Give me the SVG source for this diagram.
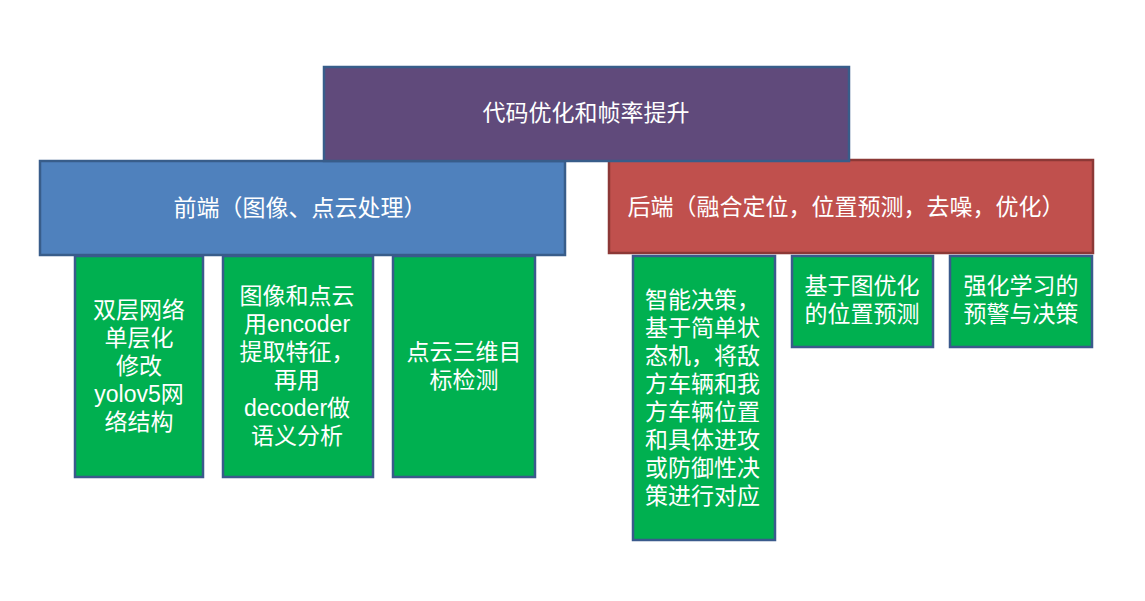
<svg xmlns="http://www.w3.org/2000/svg" width="1145" height="601" viewBox="0 0 1145 601">
<style>
text{font-family:"Liberation Sans","Noto Sans CJK SC",sans-serif;fill:#fff;font-size:23px;text-anchor:middle;dominant-baseline:central}
.g{fill:#00B050;stroke:#3A5A8C;stroke-width:2.5}
.l{text-anchor:start}
</style>
<rect width="1145" height="601" fill="#fff"/>
<g id="connectors"/>
<g id="front">
<rect x="40" y="161" width="525" height="94" fill="#4F81BD" stroke="#385D8A" stroke-width="2.5"/>
<text x="300" y="208">前端（图像、点云处理）</text>
</g>
<g id="back">
<rect x="609" y="160" width="484" height="93" fill="#C0504D" stroke="#8C3836" stroke-width="2.5"/>
<text x="846" y="207">后端（融合定位，位置预测，去噪，优化）</text>
</g>
<g id="top">
<rect x="324" y="67" width="525" height="94" fill="#604A7B" stroke="#385D8A" stroke-width="2.5"/>
<text x="586" y="113">代码优化和帧率提升</text>
</g>
<g id="f1">
<rect class="g" x="75" y="256" width="128" height="221"/>
<text x="139" y="310">双层网络</text>
<text x="139" y="338">单层化</text>
<text x="139" y="366">修改</text>
<text x="139" y="394">yolov5网</text>
<text x="139" y="422">络结构</text>
</g>
<g id="f2">
<rect class="g" x="223" y="256" width="150" height="221"/>
<text x="297" y="296">图像和点云</text>
<text x="297" y="324">用encoder</text>
<text x="297" y="352">提取特征，</text>
<text x="297" y="380">再用</text>
<text x="297" y="408">decoder做</text>
<text x="297" y="436">语义分析</text>
</g>
<g id="f3">
<rect class="g" x="393" y="256" width="142" height="221"/>
<text x="464" y="352">点云三维目</text>
<text x="464" y="380">标检测</text>
</g>
<g id="b1">
<rect class="g" x="633" y="256" width="142" height="284"/>
<text class="l" x="645" y="300">智能决策，</text>
<text class="l" x="645" y="328">基于简单状</text>
<text class="l" x="645" y="356">态机，将敌</text>
<text class="l" x="645" y="384">方车辆和我</text>
<text class="l" x="645" y="412">方车辆位置</text>
<text class="l" x="645" y="440">和具体进攻</text>
<text class="l" x="645" y="468">或防御性决</text>
<text class="l" x="645" y="496">策进行对应</text>
</g>
<g id="b2">
<rect class="g" x="792" y="256" width="141" height="91"/>
<text x="862" y="286">基于图优化</text>
<text x="862" y="314">的位置预测</text>
</g>
<g id="b3">
<rect class="g" x="950" y="256" width="142" height="91"/>
<text x="1021" y="286">强化学习的</text>
<text x="1021" y="314">预警与决策</text>
</g>
</svg>
